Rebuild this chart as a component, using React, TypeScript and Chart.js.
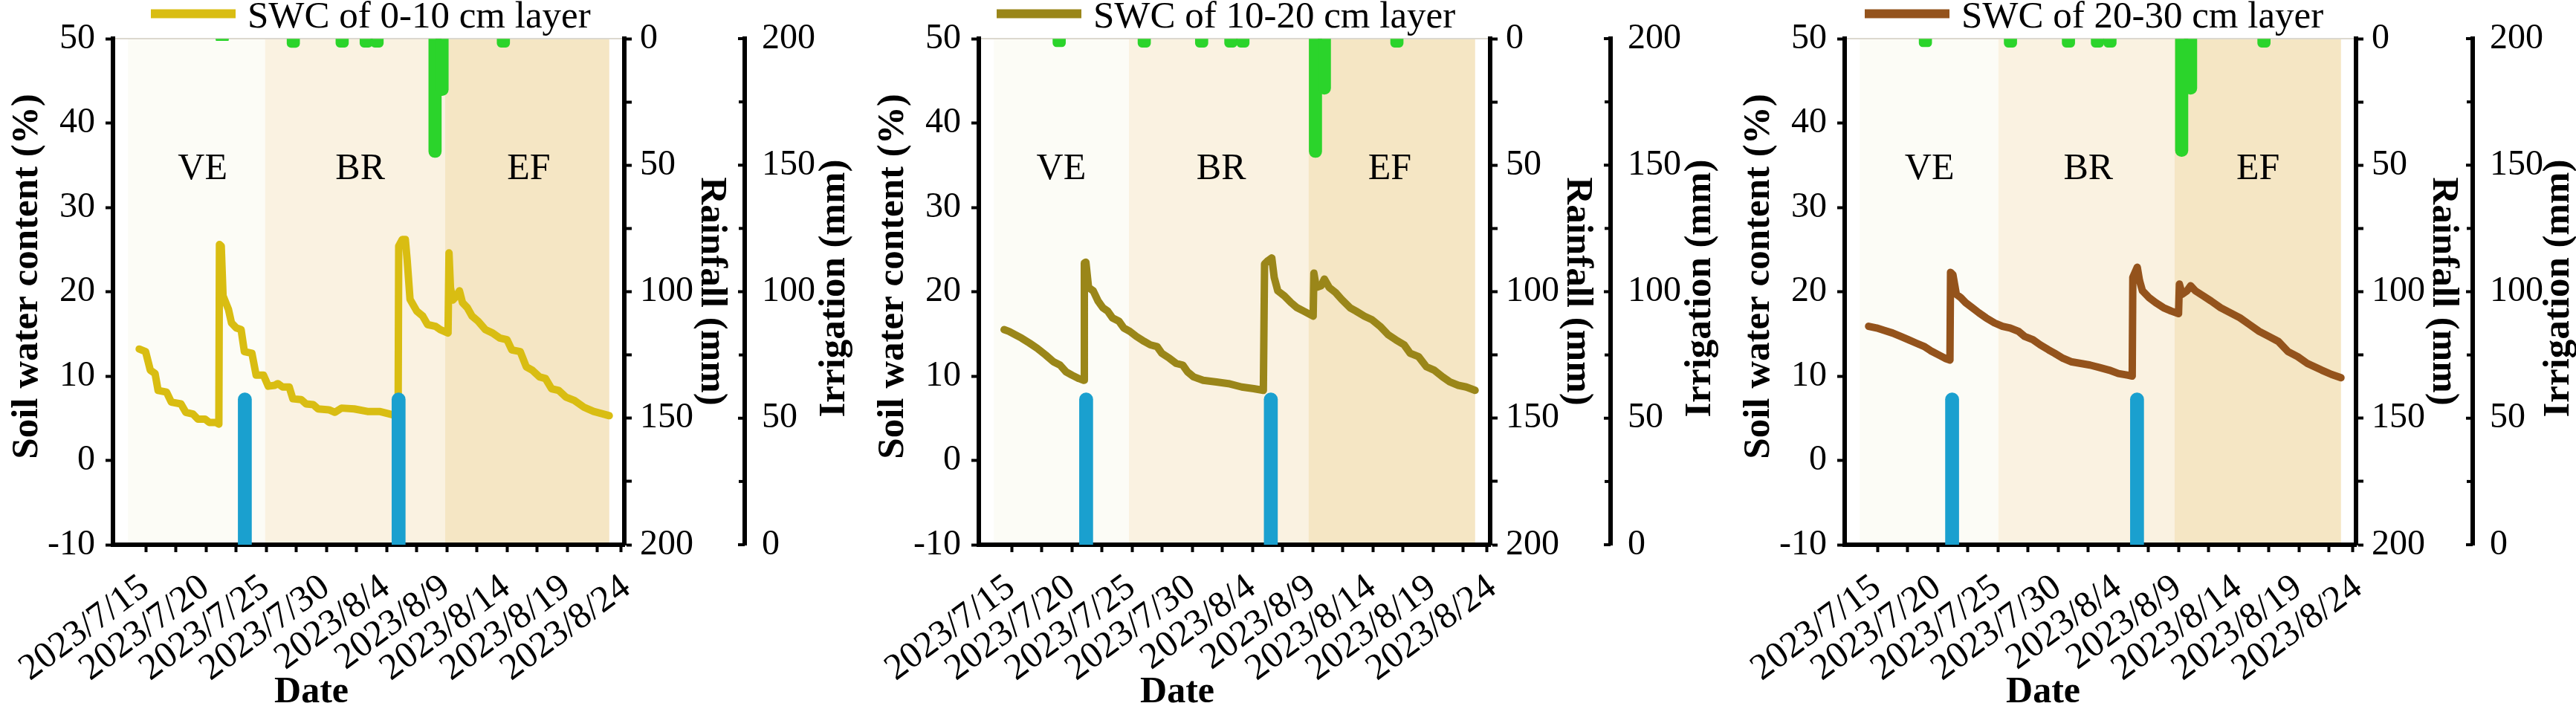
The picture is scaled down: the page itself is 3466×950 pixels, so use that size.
import React, { useEffect, useRef } from 'react';
import { Chart, registerables } from 'chart.js';

Chart.register(...registerables);

const FONT = "'Liberation Serif', 'Times New Roman', serif";
Chart.defaults.font.family = FONT;

// ---- x axis (days since 2023/7/15) ----
const MAJOR_DAYS = [0, 5, 10, 15, 20, 25, 30, 35, 40];
const DATE_LABELS = ['2023/7/15', '2023/7/20', '2023/7/25', '2023/7/30', '2023/8/4', '2023/8/9', '2023/8/14', '2023/8/19', '2023/8/24'];
const MINOR_DAYS = [3, 8, 13, 18, 23, 28, 33, 38];
const PHASES = ['VE', 'BR', 'EF'];
const PHASE_LABEL_Y = 34.5;

// ---- SWC series: [day, %] ----
const swc0to10 = [
  [0.93, 13.2], [1.46, 12.9], [1.85, 10.7], [2.25, 10.3], [2.5, 8.3], [3.2, 8.1], [3.6, 6.9], [4.4, 6.7],
  [4.8, 5.7], [5.4, 5.5], [5.8, 4.9], [6.4, 4.9], [6.75, 4.5], [7.3, 4.5], [7.55, 4.3], [7.6, 25.6],
  [7.75, 25.4], [7.9, 19.5], [8.35, 17.9], [8.6, 16.3], [9.0, 15.7], [9.4, 15.5], [9.67, 12.9], [10.3, 12.7],
  [10.65, 10.1], [11.26, 10.1], [11.66, 8.8], [12.2, 8.9], [12.45, 9.1], [12.85, 8.7], [13.4, 8.7], [13.7, 7.3],
  [14.4, 7.2], [14.8, 6.7], [15.4, 6.6], [15.8, 6.1], [16.7, 6.0], [17.2, 5.7], [17.75, 6.2], [18.8, 6.1],
  [19.9, 5.8], [20.9, 5.8], [22.0, 5.4], [22.45, 5.3], [22.5, 25.4], [22.8, 26.2], [23.05, 26.2], [23.2, 23.8],
  [23.44, 19.1], [24.0, 17.7], [24.5, 17.1], [24.9, 16.1], [25.56, 15.9], [25.96, 15.5], [26.6, 15.1], [26.68, 24.6],
  [26.8, 20.5], [27.0, 19.0], [27.3, 19.5], [27.55, 20.1], [27.8, 18.7], [28.2, 18.1], [28.6, 17.1], [29.1, 16.5],
  [29.7, 15.5], [30.3, 15.1], [30.9, 14.5], [31.5, 14.3], [31.9, 13.1], [32.6, 12.9], [33.1, 11.1], [33.6, 10.7],
  [34.2, 9.9], [34.7, 9.7], [35.2, 8.5], [35.8, 8.3], [36.4, 7.5], [37.1, 7.1], [37.9, 6.3], [38.7, 5.8],
  [39.5, 5.5], [40, 5.3],
];
const swc10to20 = [
  [0.85, 15.5], [1.25, 15.3], [1.77, 14.9], [2.3, 14.5], [2.97, 13.9], [3.6, 13.3], [4.3, 12.5], [4.95, 11.7],
  [5.5, 11.3], [6.0, 10.5], [6.5, 10.1], [7.07, 9.7], [7.47, 9.5], [7.52, 23.4], [7.65, 23.5], [7.87, 20.5],
  [8.26, 20.1], [8.66, 18.9], [9.06, 18.1], [9.46, 17.7], [9.85, 16.9], [10.4, 16.5], [10.8, 15.7], [11.3, 15.3],
  [11.84, 14.7], [12.5, 14.1], [13.0, 13.7], [13.56, 13.5], [13.96, 12.7], [14.6, 12.1], [15.15, 11.5], [15.7, 11.3],
  [16.1, 10.5], [16.6, 9.9], [17.4, 9.5], [18.5, 9.3], [19.5, 9.1], [20.6, 8.7], [21.6, 8.5], [22.4, 8.3],
  [22.5, 23.3], [22.8, 23.7], [23.1, 24.0], [23.3, 21.7], [23.6, 20.1], [24.15, 19.5], [24.7, 18.7], [25.2, 18.1],
  [25.75, 17.7], [26.54, 17.1], [26.6, 22.2], [26.8, 20.5], [27.2, 20.7], [27.47, 21.5], [27.87, 20.5], [28.4, 19.9],
  [28.9, 19.1], [29.6, 18.1], [30.1, 17.7], [30.8, 17.1], [31.4, 16.7], [32.1, 15.9], [32.77, 14.9], [33.4, 14.3],
  [34.1, 13.7], [34.6, 12.7], [35.3, 12.3], [35.95, 11.1], [36.6, 10.7], [37.3, 9.9], [37.9, 9.3], [38.6, 8.9],
  [39.26, 8.7], [40, 8.3],
];
const swc20to30 = [
  [0.74, 15.9], [1.4, 15.7], [2.07, 15.4], [2.73, 15.1], [3.4, 14.7], [4.05, 14.3], [4.7, 13.9], [5.38, 13.5],
  [5.9, 13.0], [6.57, 12.5], [7.1, 12.1], [7.5, 11.9], [7.55, 22.3], [7.75, 22.0], [8.03, 19.7], [8.4, 19.3],
  [8.8, 18.7], [9.35, 18.1], [9.9, 17.5], [10.5, 16.9], [11.2, 16.3], [11.87, 15.9], [12.5, 15.7], [13.2, 15.3],
  [13.7, 14.7], [14.4, 14.3], [15.0, 13.7], [15.7, 13.1], [16.2, 12.7], [16.9, 12.1], [17.56, 11.7], [18.36, 11.5],
  [19.15, 11.3], [19.95, 11.0], [20.74, 10.7], [21.5, 10.3], [22.3, 10.1], [22.65, 10.0], [22.7, 21.7], [23.07, 22.9],
  [23.26, 21.3], [23.5, 20.1], [24.05, 19.3], [24.6, 18.7], [25.25, 18.1], [25.9, 17.7], [26.5, 17.4], [26.57, 20.9],
  [26.8, 19.7], [27.2, 20.1], [27.5, 20.7], [27.9, 20.1], [28.55, 19.5], [29.2, 18.9], [30.0, 18.1], [30.8, 17.5],
  [31.6, 16.9], [32.4, 16.1], [33.2, 15.3], [34.0, 14.7], [34.8, 14.1], [35.6, 12.9], [36.4, 12.3], [37.2, 11.5],
  [37.8, 11.1], [38.4, 10.7], [39.2, 10.2], [40, 9.8],
];

// ---- rainfall (mm) ----
const rainDays1 = [7.83, 13.74, 17.8, 19.8, 20.7, 25.52, 26.1, 31.2];
const rainMm1 = [0.8, 3.5, 3.4, 3.4, 3.4, 47, 22.5, 3.4];
const rainDays2 = [5.43, 12.5, 17.27, 19.7, 20.7, 26.73, 27.47, 33.5];
const rainMm2 = [3.2, 3.4, 3.4, 3.4, 3.4, 47, 22, 3.4];
const rainDays3 = [5.46, 12.53, 17.35, 19.76, 20.8, 26.76, 27.5, 33.6];
const rainMm3 = [3.2, 3.4, 3.4, 3.4, 3.4, 46.6, 22, 3.4];

// ---- irrigation (mm) ----
const irrDays1 = [9.71, 22.49];
const irrDays2 = [7.67, 23.02];
const irrDays3 = [7.68, 23.05];
const irrMm = [60, 60];

// ---- phase boundaries and label positions (days) ----
const phaseBounds1 = [11.39, 26.36];
const phaseBounds2 = [11.23, 26.15];
const phaseBounds3 = [11.52, 26.17];
const phaseLabelDays1 = [6.2, 19.3, 33.3];
const phaseLabelDays2 = [5.6, 18.9, 32.9];
const phaseLabelDays3 = [5.8, 19.0, 33.1];

const PHASE_COLORS = ['#fcfcf6', '#faf2e1', '#f5e6c4'];
const RAIN_COLOR = '#2bd42b';
const IRR_COLOR = '#1aa0cf';

interface PanelSpec {
  legend: string;
  color: string;
  swc: number[][];
  rainDays: number[];
  rainMm: number[];
  irrDays: number[];
  bounds: number[];
  labelDays: number[];
  legendX: number;
  rainWidth: number;
  irrTitleX: number;
  left: number;
}

const PANELS: PanelSpec[] = [
  { legend: 'SWC of 0-10 cm layer', color: '#d9bd12', swc: swc0to10, rainDays: rainDays1, rainMm: rainMm1, irrDays: irrDays1, bounds: phaseBounds1, labelDays: phaseLabelDays1, legendX: 203, rainWidth: 162, irrTitleX: 1123, left: 0 },
  { legend: 'SWC of 10-20 cm layer', color: '#9a8619', swc: swc10to20, rainDays: rainDays2, rainMm: rainMm2, irrDays: irrDays2, bounds: phaseBounds2, labelDays: phaseLabelDays2, legendX: 176, rainWidth: 162, irrTitleX: 1123, left: 1165 },
  { legend: 'SWC of 20-30 cm layer', color: '#94531c', swc: swc20to30, rainDays: rainDays3, rainMm: rainMm3, irrDays: irrDays3, bounds: phaseBounds3, labelDays: phaseLabelDays3, legendX: 179, rainWidth: 157, irrTitleX: 1113, left: 2330 },
];

const W = 1165;
const H = 950;
const ZERO_PAD = () => ({ left: 0, top: 0, right: 0, bottom: 0 });
const XLABEL_ROT = (36.5 * Math.PI) / 180;

function makeDecor(p: PanelSpec) {
  return {
    id: 'decor',
    beforeDraw(chart: any) {
      const { ctx, chartArea: a, scales } = chart;
      const x = scales.x;
      const edges = [x.min, p.bounds[0], p.bounds[1], x.max];
      ctx.save();
      for (let i = 0; i < 3; i++) {
        const x0 = x.getPixelForValue(edges[i]);
        const x1 = x.getPixelForValue(edges[i + 1]);
        ctx.fillStyle = PHASE_COLORS[i];
        ctx.fillRect(x0, a.top, x1 - x0, a.bottom - a.top);
      }
      ctx.strokeStyle = '#dcd8cf';
      ctx.lineWidth = 2;
      ctx.beginPath();
      ctx.moveTo(a.left, a.top);
      ctx.lineTo(a.right, a.top);
      ctx.stroke();
      ctx.restore();
    },
    beforeDatasetsDraw(chart: any) {
      const { ctx, scales } = chart;
      const x = scales.x;
      const y = scales.y;
      ctx.save();
      ctx.fillStyle = '#000';
      ctx.font = `50px ${FONT}`;
      ctx.textAlign = 'center';
      ctx.textBaseline = 'middle';
      for (let i = 0; i < 3; i++) {
        ctx.fillText(PHASES[i], x.getPixelForValue(p.labelDays[i]), y.getPixelForValue(PHASE_LABEL_Y));
      }
      ctx.restore();
    },
    afterDraw(chart: any) {
      const { ctx, scales } = chart;
      const irr = scales.irr;
      const x = scales.x;
      ctx.save();
      // irrigation ticks (pointing toward the plot)
      ctx.strokeStyle = '#000';
      ctx.lineWidth = 4;
      for (let v = 0; v <= 200; v += 25) {
        const yy = irr.getPixelForValue(v);
        ctx.beginPath();
        ctx.moveTo(irr.left - 3 - (v % 50 === 0 ? 6 : 5), yy);
        ctx.lineTo(irr.left, yy);
        ctx.stroke();
      }
      // rotated date tick labels
      ctx.fillStyle = '#000';
      ctx.font = `50px ${FONT}`;
      ctx.textAlign = 'right';
      ctx.textBaseline = 'alphabetic';
      MAJOR_DAYS.forEach((d, i) => {
        ctx.save();
        ctx.translate(x.getPixelForValue(d) + 31, 796);
        ctx.rotate(-XLABEL_ROT);
        ctx.fillText(DATE_LABELS[i], 0, 0);
        ctx.restore();
      });
      // axis titles
      ctx.font = `bold 51px ${FONT}`;
      ctx.textAlign = 'center';
      ctx.textBaseline = 'middle';
      const rot = (text: string, cx: number, cy: number, ang: number) => {
        ctx.save();
        ctx.translate(cx, cy);
        ctx.rotate(ang);
        ctx.fillText(text, 0, 0);
        ctx.restore();
      };
      rot('Soil water content (%)', 37, 372, -Math.PI / 2);
      rot('Rainfall (mm)', 957, 392, Math.PI / 2);
      rot('Irrigation (mm)', p.irrTitleX, 388, -Math.PI / 2);
      ctx.font = `bold 50px ${FONT}`;
      ctx.textBaseline = 'alphabetic';
      ctx.fillText('Date', 419, 945);
      // legend
      ctx.strokeStyle = p.color;
      ctx.lineWidth = 12;
      ctx.beginPath();
      ctx.moveTo(p.legendX, 18.5);
      ctx.lineTo(p.legendX + 114, 18.5);
      ctx.stroke();
      ctx.font = `51px ${FONT}`;
      ctx.textAlign = 'left';
      ctx.fillText(p.legend, p.legendX + 130, 37);
      ctx.restore();
    },
  };
}

function Panel({ p }: { p: PanelSpec }) {
  const ref = useRef<HTMLCanvasElement>(null);
  useEffect(() => {
    if (!ref.current) return;
    const tickFont = { family: FONT, size: 48 };
    const chart = new Chart(ref.current, {
      type: 'line',
      data: {
        datasets: [
          {
            type: 'bar',
            label: 'Rainfall',
            data: p.rainDays.map((d, i) => ({ x: d, y: p.rainMm[i] })),
            xAxisID: 'x',
            yAxisID: 'rain',
            backgroundColor: RAIN_COLOR,
            barThickness: 17,
            grouped: false,
            borderRadius: 9,
            order: 1,
          } as any,
          {
            type: 'bar',
            label: 'Irrigation',
            data: p.irrDays.map((d, i) => ({ x: d, y: irrMm[i] })),
            xAxisID: 'x',
            yAxisID: 'irr',
            backgroundColor: IRR_COLOR,
            barThickness: 18,
            grouped: false,
            borderRadius: 9,
            order: 2,
          } as any,
          {
            type: 'line',
            label: p.legend,
            data: p.swc.map(([d, v]) => ({ x: d, y: v })),
            xAxisID: 'x',
            yAxisID: 'y',
            borderColor: p.color,
            borderWidth: 10,
            pointRadius: 0,
            tension: 0,
            borderJoinStyle: 'round',
            borderCapStyle: 'round',
            order: 3,
          } as any,
        ],
      },
      options: {
        animation: false,
        responsive: false,
        devicePixelRatio: 1,
        layout: { padding: { top: 52, left: 0, right: 0, bottom: 0 } },
        plugins: { legend: { display: false }, tooltip: { enabled: false } },
        scales: {
          x: {
            type: 'linear',
            position: 'bottom',
            min: 0,
            max: 40,
            afterBuildTicks: (s: any) => {
              s.ticks = [...MAJOR_DAYS, ...MINOR_DAYS].sort((a, b) => a - b).map((v) => ({ value: v }));
            },
            afterFit: (s: any) => {
              s.height = H - 733;
              s.paddingLeft = 0;
              s.paddingRight = 0;
              s.getPadding = ZERO_PAD;
            },
            ticks: { display: false, autoSkip: false },
            grid: { drawOnChartArea: false, tickLength: 10, tickWidth: 4, tickColor: '#000' },
            border: { color: '#000', width: 6 },
          },
          y: {
            position: 'left',
            min: -10,
            max: 50,
            afterFit: (s: any) => {
              s.width = 152;
              s.getPadding = ZERO_PAD;
            },
            ticks: {
              stepSize: 5,
              padding: 14,
              color: '#000',
              font: tickFont,
              callback: (v: any) => (Number(v) % 10 === 0 ? String(v) : ''),
            },
            grid: { drawOnChartArea: false, tickLength: 10, tickWidth: 4, tickColor: '#000' },
            border: { color: '#000', width: 6 },
          },
          rain: {
            position: 'right',
            weight: 1,
            reverse: true,
            min: 0,
            max: 200,
            afterFit: (s: any) => {
              s.width = p.rainWidth;
              s.getPadding = ZERO_PAD;
            },
            ticks: {
              stepSize: 25,
              padding: 11,
              color: '#000',
              font: tickFont,
              callback: (v: any) => (Number(v) % 50 === 0 ? String(v) : ''),
            },
            grid: { drawOnChartArea: false, tickLength: 10, tickWidth: 4, tickColor: '#000' },
            border: { color: '#000', width: 6 },
          },
          irr: {
            position: 'right',
            weight: 2,
            min: 0,
            max: 200,
            afterFit: (s: any) => {
              s.width = W - 840 - p.rainWidth;
              s.getPadding = ZERO_PAD;
            },
            ticks: {
              stepSize: 25,
              padding: 15,
              color: '#000',
              font: tickFont,
              callback: (v: any) => (Number(v) % 50 === 0 ? String(v) : ''),
            },
            grid: { display: false },
            border: { display: true, color: '#000', width: 6 },
          },
        },
      } as any,
      plugins: [makeDecor(p)],
    });
    return () => chart.destroy();
  }, [p]);
  return (
    <canvas
      ref={ref}
      width={W}
      height={H}
      style={{ position: 'absolute', left: p.left, top: 0, width: W, height: H }}
    />
  );
}

export default function App() {
  return (
    <div
      style={{
        position: 'fixed',
        left: 0,
        top: 0,
        width: 3466,
        height: 950,
        overflow: 'hidden',
        background: '#fff',
      }}
    >
      {PANELS.map((p) => (
        <Panel key={p.legend} p={p} />
      ))}
    </div>
  );
}
